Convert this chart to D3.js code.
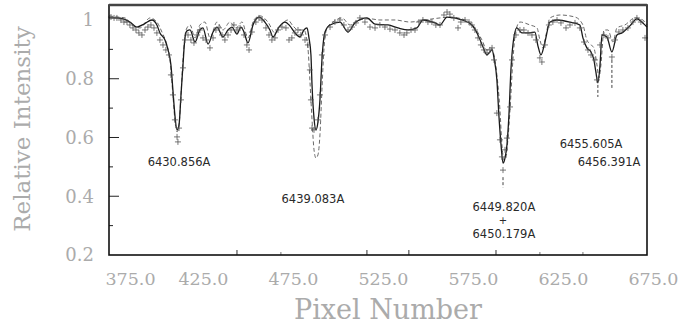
<!DOCTYPE html>
<html>
<head>
<meta charset="utf-8">
<script src="https://cdnjs.cloudflare.com/ajax/libs/d3/7.8.5/d3.min.js"></script>
<style>
  body { margin: 0; background: #fff; }
  svg { display: block; }
</style>
</head>
<body>
<div id="chart"></div>
<script>
// pixel number vs relative intensity
const modelSolid = [
  [372.8,1.007],[376.1,1.007],[380.6,1.004],[384.4,0.993],[388.3,0.976],[392.2,0.986],[396.7,1.000],
  [399.4,0.983],[401.1,0.956],[403.9,0.932],[405.6,0.898],[407.2,0.847],[408.3,0.762],[409.4,0.677],
  [410.6,0.626],[411.7,0.643],[412.8,0.745],[413.9,0.847],[415.0,0.939],[416.1,0.963],[417.8,0.966],
  [420.6,0.925],[423.3,0.966],[425.0,0.973],[427.8,0.918],[430.6,0.959],[432.8,0.976],[436.1,0.942],
  [438.9,0.966],[441.1,0.976],[443.9,0.952],[446.1,0.976],[447.8,0.959],[450.0,0.922],[452.8,0.983],
  [456.1,1.010],[459.4,0.993],[462.2,0.966],[463.9,0.942],[467.2,0.976],[470.6,0.993],[473.3,0.980],
  [476.1,0.956],[478.9,0.942],[481.1,0.966],[482.8,0.973],[483.9,0.939],[485.0,0.881],[485.6,0.779],
  [486.7,0.666],[487.8,0.626],[488.9,0.653],[490.0,0.728],[491.1,0.864],[492.8,0.959],[495.6,0.983],
  [501.1,0.993],[505.6,0.959],[509.4,0.990],[516.1,1.007],[520.6,0.986],[527.8,0.983],[533.3,0.973],
  [538.9,0.966],[543.9,0.973],[547.2,1.000],[553.9,0.990],[556.7,0.983],[560.6,1.010],[568.9,1.000],
  [574.4,0.983],[577.8,0.949],[580.6,0.908],[582.8,0.881],[584.4,0.891],[585.6,0.898],[586.7,0.871],
  [588.3,0.796],[589.4,0.677],[590.6,0.575],[591.7,0.513],[592.8,0.530],[593.9,0.575],[595.0,0.677],
  [596.1,0.830],[597.2,0.915],[599.4,0.973],[602.2,0.956],[606.7,0.956],[609.4,0.959],[611.1,0.912],
  [612.8,0.881],[615.0,0.925],[617.8,0.993],[621.7,1.000],[628.9,0.993],[634.4,0.983],[636.1,0.939],
  [638.3,0.905],[640.6,0.891],[642.2,0.864],[643.3,0.823],[644.4,0.786],[645.6,0.847],[646.7,0.949],
  [649.4,0.942],[652.2,0.891],[655.0,0.949],[657.8,0.956],[662.2,0.980],[666.1,1.004],[669.4,0.990],
  [671.7,0.976]
];

const modelDashed = [
  [372.8,1.014],[377.8,1.010],[381.7,1.007],[385.6,0.983],[390.0,0.973],[395.6,1.007],[399.4,0.993],
  [402.2,0.959],[405.0,0.915],[406.7,0.864],[408.3,0.745],[409.4,0.660],[410.6,0.619],[411.7,0.643],
  [412.8,0.745],[413.9,0.864],[415.6,0.966],[417.8,0.983],[420.6,0.939],[423.3,0.983],[426.1,0.993],
  [428.9,0.939],[432.8,0.993],[436.1,0.966],[440.0,0.993],[443.3,0.973],[446.7,0.993],[450.0,0.939],
  [453.3,1.000],[456.7,1.014],[461.1,0.993],[465.0,0.956],[468.9,0.986],[472.2,1.000],[475.0,0.980],
  [477.8,0.966],[481.1,0.966],[483.3,0.905],[484.4,0.796],[485.6,0.660],[486.7,0.558],[487.8,0.530],
  [488.9,0.541],[490.0,0.609],[491.1,0.762],[492.2,0.898],[493.9,0.973],[497.2,0.993],[502.2,1.007],
  [506.7,0.983],[511.1,1.000],[517.8,1.004],[523.3,1.000],[531.7,1.000],[540.0,0.993],[548.3,1.000],
  [556.7,1.007],[562.2,1.010],[570.6,1.000],[576.1,0.973],[580.0,0.932],[582.8,0.898],[585.0,0.905],
  [586.7,0.881],[588.3,0.813],[590.0,0.694],[591.1,0.575],[592.2,0.523],[593.3,0.530],[594.4,0.592],
  [595.6,0.694],[597.2,0.864],[598.9,0.966],[601.1,0.993],[606.7,0.983],[610.6,0.973],[612.2,0.932],
  [613.9,0.905],[615.6,0.949],[617.8,1.007],[623.3,1.017],[631.7,1.010],[636.1,0.983],[638.3,0.932],
  [640.0,0.918],[642.2,0.905],[643.9,0.847],[645.0,0.803],[646.1,0.847],[647.8,0.966],[650.0,0.966],
  [652.8,0.925],[655.0,0.973],[659.4,0.983],[665.0,1.007],[669.4,1.000],[671.7,0.983]
];

const observed = [
  [373.9,1.010],[375.6,1.007],[377.2,1.007],[379.4,1.000],[381.1,0.993],[382.8,0.993],[384.4,0.983],
  [386.1,0.973],[387.8,0.966],[389.4,0.956],[391.1,0.949],[392.8,0.966],[394.4,0.976],[396.1,0.983],
  [397.8,0.973],[399.4,0.956],[401.1,0.932],[402.8,0.915],[404.4,0.898],[406.1,0.881],[407.2,0.813],
  [408.3,0.745],[409.4,0.660],[410.6,0.602],[411.1,0.585],[411.7,0.632],[412.8,0.728],[413.9,0.837],
  [415.0,0.932],[416.7,0.949],[418.3,0.932],[420.0,0.922],[421.7,0.949],[423.3,0.966],[425.0,0.939],
  [426.7,0.932],[428.9,0.905],[430.6,0.939],[432.2,0.966],[433.9,0.973],[435.6,0.949],[437.2,0.932],
  [438.9,0.949],[440.6,0.966],[442.2,0.983],[443.9,0.966],[445.6,0.973],[447.8,0.949],[449.4,0.915],
  [450.6,0.898],[452.2,0.959],[454.4,0.993],[456.1,1.007],[457.8,1.000],[460.0,0.973],[461.7,0.949],
  [463.3,0.932],[465.0,0.939],[466.7,0.966],[468.9,0.976],[471.1,0.973],[472.8,0.932],[474.4,0.939],
  [476.1,0.956],[477.8,0.966],[479.4,0.949],[481.7,0.932],[483.3,0.915],[484.4,0.830],[485.0,0.728],
  [485.6,0.632],[486.7,0.626],[488.9,0.660],[490.0,0.745],[491.1,0.881],[492.8,0.949],[495.6,0.976],
  [498.3,0.993],[501.1,1.000],[503.3,0.983],[505.6,0.966],[507.8,0.976],[510.0,0.990],[512.2,1.007],
  [515.0,0.993],[517.8,0.976],[520.6,0.973],[523.3,0.983],[526.1,0.976],[528.9,0.969],[531.7,0.966],
  [534.4,0.956],[536.7,0.949],[538.3,0.956],[540.6,0.966],[542.8,0.966],[545.0,0.993],[547.2,1.000],
  [550.0,0.993],[552.2,0.993],[554.4,0.983],[556.7,0.983],[558.9,1.017],[560.6,1.027],[562.2,1.020],
  [564.4,1.007],[566.7,0.973],[568.3,0.993],[570.6,1.000],[572.8,0.993],[574.4,0.983],[576.1,0.966],
  [577.8,0.939],[579.4,0.915],[581.1,0.898],[582.8,0.888],[584.4,0.898],[585.6,0.905],[586.7,0.864],
  [588.3,0.683],[590.0,0.592],[591.1,0.534],[591.7,0.489],[592.8,0.558],[593.9,0.598],[595.6,0.704],
  [596.7,0.864],[598.9,0.949],[601.1,0.966],[603.3,0.966],[605.6,0.956],[607.8,0.949],[610.0,0.932],
  [612.2,0.871],[613.3,0.857],[615.0,0.915],[617.2,0.983],[619.4,0.993],[621.7,1.000],[623.9,0.990],
  [626.7,0.973],[628.9,0.983],[631.7,0.990],[634.4,0.973],[636.7,0.925],[638.9,0.898],[640.6,0.881],
  [642.8,0.864],[643.9,0.796],[645.6,0.915],[647.8,0.949],[650.0,0.939],[652.2,0.874],[653.9,0.932],
  [656.1,0.959],[658.3,0.966],[661.1,0.973],[663.9,0.993],[666.1,1.007],[668.3,0.993],[670.6,0.939]
];

const xTickValues = [375, 425, 475, 525, 575, 625, 675];
const yTickValues = [0.2, 0.4, 0.6, 0.8, 1];
const yMinorTicks = [0.3, 0.5, 0.7, 0.9];
const xInnerTicks = [443.9, 516.1, 539.4, 587.8];
const xInnerMinor = [468.3, 612.2, 636.1];

// line identifications: label text and where it sits
const lineLabels = [
  { text: '6430.856A', x: 411.7, y: 0.515, size: 11.5 },
  { text: '6439.083A', x: 486.1, y: 0.392, size: 11.5 },
  { text: '6449.820A', x: 592.2, y: 0.362, size: 11.5 },
  { text: '+',         x: 591.7, y: 0.316, size: 10 },
  { text: '6450.179A', x: 592.2, y: 0.270, size: 11.5 },
  { text: '6455.605A', x: 640.6, y: 0.577, size: 11.5 },
  { text: '6456.391A', x: 650.6, y: 0.515, size: 11.5 }
];
const lineMarks = [
  { x: 644.4, y0: 0.779, y1: 0.738 },
  { x: 652.2, y0: 0.864, y1: 0.762 },
  { x: 591.7, y0: 0.465, y1: 0.43 }
];

const margin = { top: 5, right: 31, bottom: 71, left: 109 };
const W = 678, H = 326;
const width = W - margin.left - margin.right;
const height = H - margin.top - margin.bottom;

const svg = d3.select('#chart').append('svg')
  .attr('width', W)
  .attr('height', H);

const g = svg.append('g')
  .attr('transform', `translate(${margin.left},${margin.top})`);

const x = d3.scaleLinear().domain([372.8, 671.7]).range([0, width]);
const y = d3.scaleLinear().domain([0.2, 1.051]).range([height, 0]);

// thin grey serif for the axis text
const lightText = sel => sel
  .attr('fill', '#ababab')
  .style('font-family', '"DejaVu Serif", "Liberation Serif", serif');

// curves
const line = d3.line()
  .x(d => x(d[0]))
  .y(d => y(d[1]))
  .curve(d3.curveMonotoneX);

g.append('path')
  .datum(modelDashed)
  .attr('d', line)
  .attr('fill', 'none')
  .attr('stroke', '#6a6a6a')
  .attr('stroke-width', 1)
  .attr('stroke-dasharray', '4,2.5');

g.append('path')
  .datum(modelSolid)
  .attr('d', line)
  .attr('fill', 'none')
  .attr('stroke', '#1a1a1a')
  .attr('stroke-width', 1.3);

// observed points as plus signs
const s = 3;
g.selectAll('.obs')
  .data(observed)
  .enter().append('path')
  .attr('class', 'obs')
  .attr('d', d => {
    const px = x(d[0]), py = y(d[1]);
    return `M${px - s},${py}H${px + s}M${px},${py - s}V${py + s}`;
  })
  .attr('stroke', '#555')
  .attr('stroke-width', 0.8);

// identification marks and labels
g.selectAll('.mark')
  .data(lineMarks)
  .enter().append('line')
  .attr('x1', d => x(d.x)).attr('x2', d => x(d.x))
  .attr('y1', d => y(d.y0)).attr('y2', d => y(d.y1))
  .attr('stroke', '#444')
  .attr('stroke-width', 1)
  .attr('stroke-dasharray', '3,2');

g.selectAll('.id-label')
  .data(lineLabels)
  .enter().append('text')
  .attr('class', 'id-label')
  .attr('x', d => x(d.x))
  .attr('y', d => y(d.y))
  .attr('dy', '0.35em')
  .attr('text-anchor', 'middle')
  .attr('fill', '#2a2a2a')
  .style('font-family', '"DejaVu Sans", sans-serif')
  .style('font-size', d => d.size + 'px')
  .text(d => d.text);

// inner ticks
g.selectAll('.ymaj')
  .data(yTickValues.filter(v => v > 0.2 && v < 1))
  .enter().append('line')
  .attr('x1', 0).attr('x2', 10)
  .attr('y1', d => y(d)).attr('y2', d => y(d))
  .attr('stroke', '#222');

g.selectAll('.ymin')
  .data(yMinorTicks)
  .enter().append('line')
  .attr('x1', 0).attr('x2', 4)
  .attr('y1', d => y(d)).attr('y2', d => y(d))
  .attr('stroke', '#222');

g.selectAll('.xin')
  .data(xInnerTicks)
  .enter().append('line')
  .attr('x1', d => x(d)).attr('x2', d => x(d))
  .attr('y1', height).attr('y2', height - 5)
  .attr('stroke', '#333');

g.selectAll('.xinm')
  .data(xInnerMinor)
  .enter().append('line')
  .attr('x1', d => x(d)).attr('x2', d => x(d))
  .attr('y1', height).attr('y2', height - 3)
  .attr('stroke', '#777');

// frame
g.append('rect')
  .attr('width', width)
  .attr('height', height)
  .attr('fill', 'none')
  .attr('stroke', '#111')
  .attr('stroke-width', 1.6);
g.append('line')
  .attr('x1', 0).attr('x2', width)
  .attr('y1', 0).attr('y2', 0)
  .attr('stroke', '#444')
  .attr('stroke-width', 2.6);

// tick labels
const xAxis = d3.axisBottom(x).tickValues(xTickValues).tickFormat(d3.format('.1f')).tickSize(0);
const xg = g.append('g')
  .attr('transform', `translate(0,${height})`)
  .call(xAxis);
xg.select('.domain').remove();
xg.selectAll('text')
  .attr('y', 0).attr('dy', 30)
  .attr('dx', (d, i) => i === 0 ? 17 : 0)
  .style('font-size', '17.5px')
  .call(lightText);

const yAxis = d3.axisLeft(y).tickValues(yTickValues).tickFormat(d => d === 1 ? '1' : d3.format('.1f')(d)).tickSize(0);
const yg = g.append('g').call(yAxis);
yg.select('.domain').remove();
yg.selectAll('text')
  .attr('x', -15)
  .style('font-size', '18px')
  .call(lightText);

// axis titles
svg.append('text')
  .attr('transform', `translate(30,${margin.top + 124}) rotate(-90)`)
  .attr('text-anchor', 'middle')
  .style('font-size', '23px')
  .text('Relative Intensity')
  .call(lightText);

svg.append('text')
  .attr('x', 388)
  .attr('y', 319)
  .attr('text-anchor', 'middle')
  .style('font-size', '27px')
  .text('Pixel Number')
  .call(lightText);
</script>
</body>
</html>
